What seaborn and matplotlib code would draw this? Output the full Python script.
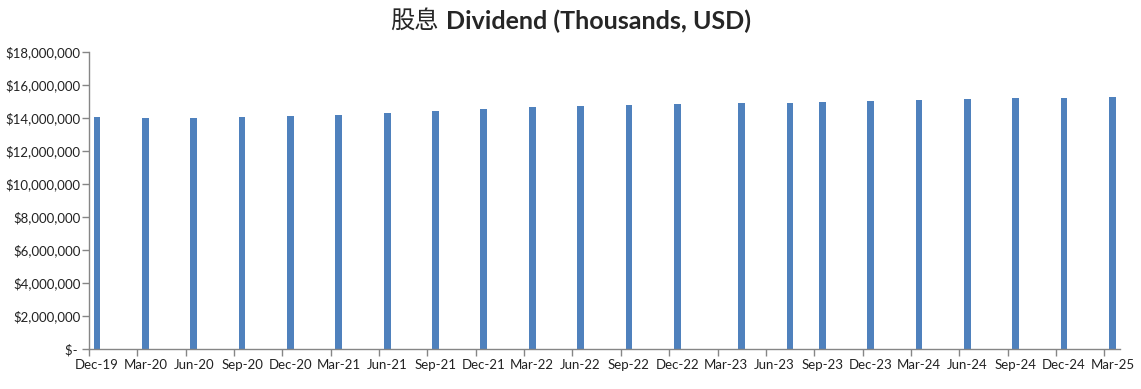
import matplotlib
matplotlib.use("Agg")
import matplotlib.pyplot as plt
import seaborn as sns
import pandas as pd
import numpy as np
from matplotlib.ticker import FixedLocator, NullFormatter, FuncFormatter

# ---- data ----
bar_dates = ["2019-12", "2020-03", "2020-06", "2020-09", "2020-12", "2021-03",
             "2021-06", "2021-09", "2021-12", "2022-03", "2022-06", "2022-09",
             "2022-12", "2023-04", "2023-07", "2023-09", "2023-12", "2024-03",
             "2024-06", "2024-09", "2024-12", "2025-03"]
dividend = [14080000, 14020000, 14020000, 14080000, 14140000, 14200000,
            14320000, 14440000, 14560000, 14680000, 14750000, 14810000,
            14870000, 14930000, 14930000, 14990000, 15050000, 15110000,
            15170000, 15230000, 15230000, 15290000]
tick_labels = ["Dec-19", "Mar-20", "Jun-20", "Sep-20", "Dec-20", "Mar-21",
               "Jun-21", "Sep-21", "Dec-21", "Mar-22", "Jun-22", "Sep-22",
               "Dec-22", "Mar-23", "Jun-23", "Sep-23", "Dec-23", "Mar-24",
               "Jun-24", "Sep-24", "Dec-24", "Mar-25"]
y_ticks = [0, 2000000, 4000000, 6000000, 8000000, 10000000, 12000000,
           14000000, 16000000, 18000000]

# month index (months since Dec-2019), bar centred in its month
def month_pos(s):
    y, m = s.split("-")
    return (int(y) - 2019) * 12 + int(m) - 12

df = pd.DataFrame({"month": [month_pos(d) + 0.5 for d in bar_dates],
                   "value": dividend})

sns.set_style("white")
plt.rcParams["font.family"] = ["Lato", "DejaVu Sans"]

fig = plt.figure(figsize=(11.41, 3.89), dpi=100)
ax = fig.add_axes([0.078, 0.1028, 0.904, 0.763])

sns.barplot(data=df, x="month", y="value", native_scale=True, width=0.21,
            color="#4F81BD", saturation=1, linewidth=0, ax=ax, errorbar=None)

ax.set_xlim(0, 64)
ax.set_ylim(0, 18000000)
ax.set_xlabel("")
ax.set_ylabel("")

grey = "#868686"
for s in ["top", "right"]:
    ax.spines[s].set_visible(False)
for s in ["left", "bottom"]:
    ax.spines[s].set_color(grey)
    ax.spines[s].set_linewidth(1.0)

# x: tick marks at quarter boundaries, labels centred in month
tick_months = [month_pos(f"{2019 + (11 + 3 * i) // 12}-{(11 + 3 * i) % 12 + 1:02d}") for i in range(len(tick_labels))]
ax.xaxis.set_major_locator(FixedLocator(tick_months))
ax.xaxis.set_major_formatter(NullFormatter())
ax.xaxis.set_minor_locator(FixedLocator([m + 0.5 for m in tick_months]))
ax.set_xticklabels(tick_labels, minor=True)
ax.tick_params(axis="x", which="major", length=5, width=1, color=grey, direction="out", bottom=True)
ax.tick_params(axis="x", which="minor", length=0, pad=7, labelsize=9.5, labelcolor="#222222")

def fmt(v, pos):
    if v == 0:
        return "$- "
    return "${:,.0f}".format(v)

ax.set_yticks(y_ticks)
ax.yaxis.set_major_formatter(FuncFormatter(fmt))
ax.tick_params(axis="y", length=5, width=1, color=grey, direction="out", left=True,
               pad=1, labelsize=9.5, labelcolor="#222222")

fig.text(439 / 1141, 1 - 21 / 389, "股息", ha="right", va="center",
         fontsize=17.5, family=["Noto Sans CJK SC", "DejaVu Sans"])
fig.text(446 / 1141, 1 - 21 / 389, "Dividend (Thousands, USD)", ha="left", va="center",
         fontsize=18, fontweight="bold", family=["Lato", "DejaVu Sans"])

fig.savefig("out.png", dpi=100)
